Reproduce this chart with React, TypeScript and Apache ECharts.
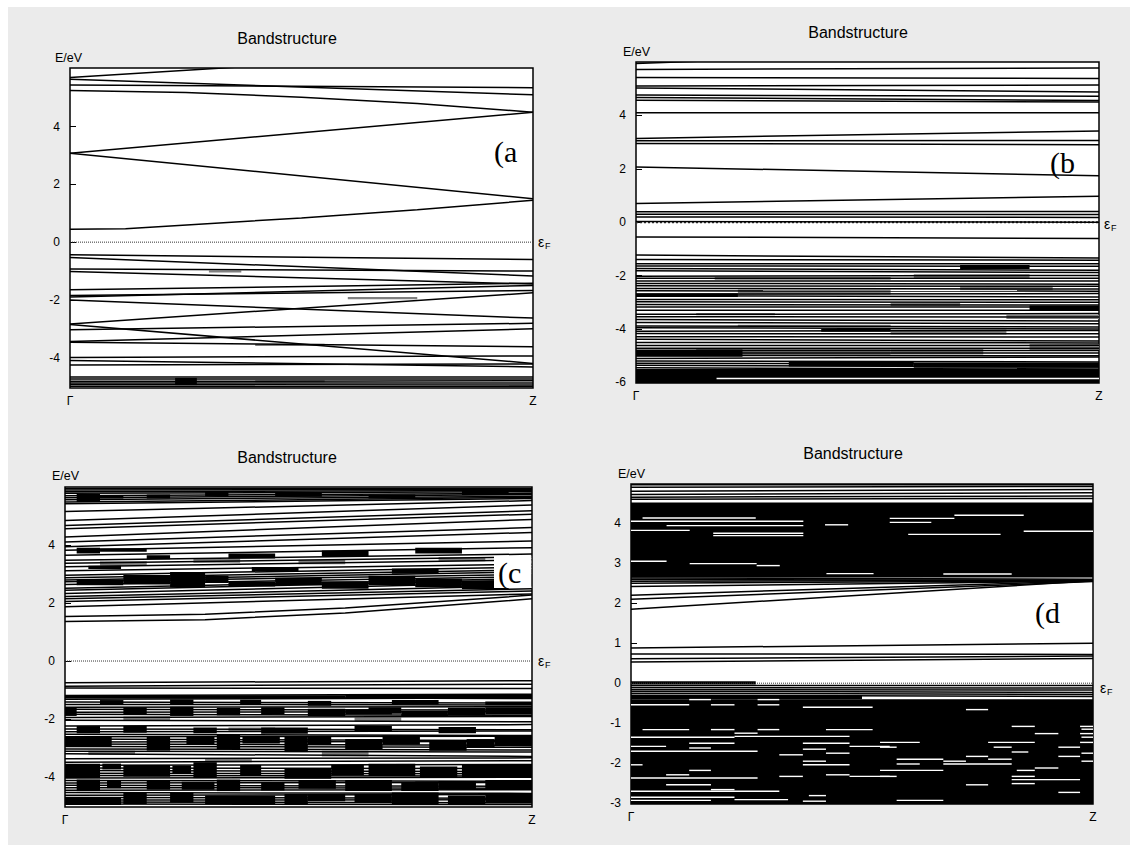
import React, { useEffect, useRef } from "react";
import * as echarts from "echarts";

// ---------- text ----------
const KPOINTS = ["Γ", "Z"];
const TITLE = "Bandstructure";
const Y_LABEL = "E/eV";
const PANEL_LETTERS = ["(a", "(b", "(c", "(d"];

// ---------- tick values ----------
const A_TICKS = [-4, -2, 0, 2, 4];
const B_TICKS = [-6, -4, -2, 0, 2, 4];
const C_TICKS = [-4, -2, 0, 2, 4];
const D_TICKS = [-3, -2, -1, 0, 1, 2, 3, 4];

// ---------- panel (a) ----------
// straight bands: [E at Γ, E at Z]
const A_BANDS = [
  [5.7, 6.7], [5.64, 5.1], [5.44, 5.35], [3.08, 4.5], [3.08, 1.5],
  [-0.44, -0.6], [-0.53, -1.17], [-0.93, -1.0], [-1.02, -1.45], [-1.65, -1.42],
  [-1.9, -1.5], [-1.85, -1.67], [-2.0, -2.63], [-2.83, -1.75], [-2.85, -4.2],
  [-3.03, -2.81], [-3.44, -3.0], [-3.47, -3.62], [-3.99, -3.94], [-4.1, -4.32],
  [-4.25, -4.22], [-4.67, -4.67], [-4.74, -4.74], [-4.82, -4.8], [-4.88, -4.88],
  [-4.93, -4.95], [-4.99, -5.0],
];
// curved bands: [k, E] points
const A_CURVES = [
  [[0, 5.25], [0.25, 5.18], [0.5, 5.02], [0.75, 4.8], [1, 4.5]],
  [[0, 0.45], [0.12, 0.46], [0.5, 0.84], [0.75, 1.12], [1, 1.45]],
];
// dense blocks: [k0, k1, Elow, Ehigh]
const A_BLOCKS = [[0.227, 0.274, -4.95, -4.7]];
const A_GRAY = [[0.3, 0.37, -1.05, -0.98], [0.6, 0.75, -1.98, -1.9], [0.4, 0.55, -3.6, -3.52], [0.4, 0.55, -4.85, -4.78]];

// ---------- panel (b) ----------
const B_BANDS = [
  [5.94, 6.6], [5.72, 5.78], [5.42, 5.38], [5.1, 5.14], [5.03, 4.88], [4.76, 4.72],
  [4.67, 4.56], [4.57, 4.5], [4.1, 4.1], [3.14, 3.42], [3.05, 3.06], [2.95, 2.9],
  [2.07, 1.74], [0.7, 0.97], [0.39, 0.4], [0.3, 0.29], [0.2, 0.18], [0.03, 0.0],
  [-0.55, -0.61], [-1.23, -1.34], [-1.4, -1.42], [-1.55, -1.55], [-1.64, -1.65],
  [-1.73, -1.8], [-1.82, -1.88], [-2.02, -1.99], [-2.1, -2.1], [-2.2, -2.2],
  [-2.29, -2.32], [-2.38, -2.4], [-2.48, -2.5], [-2.57, -2.58], [-2.7, -2.67],
  [-2.75, -2.8], [-2.89, -2.9], [-2.98, -3.0], [-3.08, -3.1], [-3.17, -3.17],
  [-3.3, -3.3], [-3.45, -3.42], [-3.54, -3.55], [-3.64, -3.7], [-3.75, -3.8],
  [-3.89, -3.92], [-3.95, -4.0], [-4.08, -4.05], [-4.17, -4.18], [-4.29, -4.3],
  [-4.38, -4.45], [-4.5, -4.52], [-4.62, -4.61], [-4.72, -4.72], [-4.81, -4.8],
  [-4.9, -4.9], [-4.99, -5.0], [-5.1, -5.05], [-5.2, -5.23], [-5.28, -5.32],
  [-5.36, -5.42], [-5.45, -5.5],
];
const B_BLOCKS = [
  [0, 1, -6.02, -5.5], [0, 0.23, -5.04, -4.77], [0, 0.22, -2.8, -2.66],
  [0.33, 0.6, -5.4, -5.2], [0.6, 1, -5.45, -5.25], [0.7, 0.85, -1.75, -1.6],
  [0.85, 1, -3.3, -3.12], [0.4, 0.55, -4.1, -4.0],
];
const B_GRAY = [
  [0.17, 0.55, -2.15, -2.05], [0.22, 0.55, -2.72, -2.52], [0.13, 0.3, -3.48, -3.4],
  [0.22, 0.55, -3.92, -3.84], [0.13, 0.55, -5.0, -4.74], [0.55, 0.8, -4.2, -4.02],
  [0.7, 0.9, -2.55, -2.38], [0.8, 1, -3.62, -3.46], [0.55, 0.75, -4.95, -4.72],
  [0.85, 1, -4.8, -4.55], [0.55, 0.7, -3.15, -3.02], [0.6, 0.85, -2.1, -1.95],
];
const B_WHITE = [[0.174, 1, -5.85]];

// ---------- panel (c) ----------
const C_BANDS = [
  [5.97, 5.97], [5.92, 5.93], [5.86, 5.9], [5.8, 5.86], [5.72, 5.8], [5.65, 5.76],
  [5.58, 5.7], [5.5, 5.66], [5.44, 5.62], [5.17, 5.55], [4.86, 5.4], [4.69, 5.2],
  [4.58, 5.08], [4.29, 4.9], [4.12, 4.62], [3.95, 4.45], [3.83, 4.15], [3.66, 3.92],
  [3.49, 3.7], [3.38, 3.6], [3.26, 3.5], [3.12, 3.35], [2.97, 3.25], [2.88, 3.15],
  [2.8, 3.08], [2.74, 3.0], [2.65, 2.92], [2.52, 2.85], [2.45, 2.8], [2.34, 2.72],
  [2.23, 2.6], [2.15, 2.5], [2.06, 2.42], [1.88, 2.32],
  [-0.75, -0.68], [-0.87, -0.8], [-0.93, -0.95], [-1.19, -1.15], [-1.25, -1.3],
  [-1.32, -1.28], [-1.42, -1.45], [-1.5, -1.52], [-1.6, -1.58], [-1.67, -1.7],
  [-1.77, -1.75], [-1.84, -1.88], [-1.95, -1.92], [-2.05, -2.1], [-2.25, -2.2],
  [-2.35, -2.38], [-2.45, -2.42], [-2.53, -2.58], [-2.62, -2.6], [-2.7, -2.75],
  [-2.8, -2.78], [-2.87, -2.92], [-2.96, -2.98], [-3.04, -3.08], [-3.12, -3.15],
  [-3.21, -3.3], [-3.38, -3.35], [-3.5, -3.45], [-3.61, -3.58], [-3.7, -3.72],
  [-3.79, -3.82], [-3.88, -3.9], [-3.96, -3.98], [-4.05, -4.02], [-4.13, -4.16],
  [-4.22, -4.2], [-4.3, -4.33], [-4.38, -4.4], [-4.47, -4.45], [-4.55, -4.58],
  [-4.64, -4.62], [-4.72, -4.75], [-4.81, -4.8], [-4.88, -4.9], [-4.95, -4.96],
];
const C_CURVES = [
  [[0, 1.54], [0.3, 1.62], [0.6, 1.83], [1, 2.28]],
  [[0, 1.37], [0.3, 1.43], [0.6, 1.66], [1, 2.15]],
];
const C_BLOCKS = [
  [0.025, 0.075, 5.5, 5.78], [0.075, 0.125, 5.62, 5.72], [0.175, 0.225, 5.62, 5.76],
  [0.3, 0.35, 5.7, 5.85], [0.45, 0.55, 5.68, 5.82], [0.65, 0.75, 5.62, 5.76],
  [0.85, 0.95, 5.74, 5.9], [0.025, 0.075, 3.72, 3.92], [0.075, 0.175, 3.78, 3.9],
  [0.175, 0.225, 3.52, 3.66], [0.35, 0.45, 3.55, 3.72], [0.55, 0.65, 3.62, 3.82],
  [0.75, 0.85, 3.72, 3.92], [0.025, 0.125, 2.62, 2.82], [0.125, 0.225, 2.65, 2.98],
  [0.225, 0.3, 2.55, 3.08], [0.3, 0.35, 2.7, 2.95], [0.35, 0.45, 2.58, 2.75],
  [0.45, 0.55, 2.62, 2.88], [0.55, 0.65, 2.5, 2.76], [0.65, 0.75, 2.62, 2.95],
  [0.75, 0.85, 2.55, 2.85], [0.85, 0.95, 2.48, 2.78], [0.95, 1.0, 2.62, 3.0],
  [0.7, 0.8, 3.02, 3.2], [0.4, 0.5, 3.1, 3.25], [0.05, 0.12, 3.18, 3.3],
  [0.0, 0.6, -1.3, -1.18], [0.6, 1.0, -1.28, -1.15],
  [0.075, 0.125, -1.52, -1.35], [0.225, 0.275, -1.52, -1.33], [0.375, 0.42, -1.5, -1.34],
  [0.52, 0.57, -1.55, -1.38], [0.7, 0.8, -1.5, -1.35], [0.9, 1.0, -1.52, -1.4],
  [0.0, 0.025, -1.9, -1.6], [0.125, 0.175, -1.85, -1.6], [0.225, 0.275, -1.9, -1.58],
  [0.325, 0.375, -1.88, -1.62], [0.42, 0.47, -1.85, -1.6], [0.52, 0.6, -1.9, -1.65],
  [0.65, 0.72, -1.82, -1.6], [0.82, 0.9, -1.88, -1.62],
  [0.6, 0.7, -1.85, -1.68], [0.72, 0.82, -1.9, -1.72], [0.9, 1.0, -1.85, -1.6],
  [0.025, 0.075, -2.5, -2.25], [0.125, 0.175, -2.48, -2.25], [0.275, 0.325, -2.5, -2.3],
  [0.42, 0.52, -2.52, -2.3], [0.62, 0.7, -2.45, -2.25], [0.8, 0.88, -2.5, -2.28],
  [0.175, 0.225, -3.1, -2.6], [0.325, 0.375, -3.05, -2.55], [0.47, 0.52, -3.15, -2.6],
  [0.52, 0.57, -2.9, -2.6], [0.6, 0.68, -3.05, -2.7], [0.78, 0.86, -3.1, -2.75],
  [0.92, 1.0, -2.95, -2.6], [0.0, 0.1, -2.95, -2.6], [0.26, 0.32, -2.9, -2.62],
  [0.38, 0.46, -2.85, -2.6], [0.68, 0.76, -2.9, -2.58], [0.86, 0.92, -3.0, -2.7],
  [0.0, 0.075, -4.05, -3.55], [0.125, 0.225, -4.0, -3.6], [0.275, 0.325, -4.05, -3.5],
  [0.375, 0.42, -3.95, -3.6], [0.47, 0.57, -4.07, -3.7], [0.65, 0.75, -3.98, -3.55],
  [0.85, 1.0, -4.05, -3.6], [0.08, 0.12, -3.75, -3.55], [0.23, 0.27, -3.9, -3.62],
  [0.57, 0.64, -3.95, -3.6], [0.76, 0.84, -4.02, -3.65],
  [0.025, 0.075, -4.5, -4.1], [0.175, 0.225, -4.45, -4.15], [0.325, 0.375, -4.5, -4.1],
  [0.42, 0.47, -4.48, -4.2], [0.6, 0.7, -4.5, -4.12], [0.8, 0.88, -4.45, -4.15],
  [0.09, 0.12, -4.4, -4.15], [0.25, 0.32, -4.45, -4.18], [0.5, 0.58, -4.42, -4.12],
  [0.72, 0.8, -4.5, -4.2], [0.9, 1.0, -4.45, -4.12],
  [0.125, 0.175, -4.95, -4.55], [0.225, 0.275, -4.9, -4.55], [0.47, 0.52, -4.98, -4.6],
  [0.52, 0.6, -4.85, -4.6], [0.7, 0.8, -4.95, -4.55], [0.9, 1.0, -4.92, -4.58],
  [0.0, 0.12, -4.98, -4.7], [0.3, 0.45, -4.95, -4.65], [0.62, 0.7, -4.9, -4.6],
  [0.82, 0.9, -4.98, -4.65],
];
const C_GRAY = [
  [0.075, 0.175, 3.3, 3.45], [0.275, 0.375, 3.4, 3.55], [0.5, 0.6, 3.35, 3.5],
  [0.8, 0.9, 3.45, 3.6], [0.125, 0.225, -2.05, -1.92], [0.35, 0.45, -2.45, -2.3],
  [0.55, 0.65, -3.3, -3.1], [0.75, 0.85, -4.3, -4.15], [0.3, 0.4, -3.5, -3.38],
  [0.05, 0.15, -3.25, -3.1], [0.62, 0.72, -2.08, -1.95],
];

// ---------- panel (d) ----------
const D_BANDS = [
  [4.96, 4.96], [4.9, 4.92], [4.8, 4.84], [4.72, 4.76], [4.65, 4.68], [4.6, 4.62],
  [2.63, 2.6], [2.59, 2.58], [2.55, 2.57], [2.5, 2.56], [2.42, 2.55], [2.2, 2.56],
  [2.1, 2.54], [1.85, 2.56], [0.88, 1.0], [0.73, 0.72], [0.61, 0.68], [0.53, 0.62],
  [-0.06, -0.06], [-0.11, -0.12], [-0.16, -0.17], [-0.2, -0.23], [-0.25, -0.28],
  [-0.3, -0.33],
];
const D_BLOCKS = [
  [0, 1, 2.64, 4.52], [0, 1, -3.02, -0.4], [0, 0.5, -0.4, -0.3], [0, 0.27, -0.03, 0.05],
];
// white lines inside the black regions: [k0, k1, E]
const D_WHITE = [
  [0.025, 0.27, 4.13], [0, 0.373, 4.05], [0.077, 0.373, 3.94], [0.42, 0.47, 3.96],
  [0, 0.127, 3.82], [0.178, 0.373, 3.75], [0.178, 0.373, 3.69], [0, 0.077, 3.05],
  [0.127, 0.272, 2.99], [0.272, 0.322, 2.94], [0.423, 0.525, 2.74], [0.676, 0.824, 2.73],
  [0.56, 0.7, 4.12], [0.7, 0.85, 4.2], [0.6, 0.8, 3.72], [0.85, 1, 3.8], [0.56, 0.65, 4.02],
  [0.126, 0.173, -0.41], [0.274, 0.321, -0.41], [0, 0.126, -0.54], [0.173, 0.224, -0.54],
  [0.274, 0.321, -0.54], [0.372, 0.523, -0.6], [0.025, 0.126, -1.16], [0.173, 0.224, -1.16],
  [0.274, 0.321, -1.16], [0.422, 0.523, -1.16], [0.224, 0.274, -1.25], [0, 0.224, -1.35],
  [0.224, 0.473, -1.33], [0.126, 0.224, -1.5], [0.372, 0.473, -1.5], [0, 0.076, -1.58],
  [0.473, 0.56, -1.58], [0.126, 0.173, -1.62], [0, 0.274, -1.7], [0.321, 0.372, -1.79],
  [0.372, 0.422, -1.65], [0.422, 0.473, -1.75], [0, 0.025, -2.04], [0.372, 0.473, -2.04],
  [0.372, 0.422, -1.95], [0.126, 0.173, -2.18], [0.076, 0.126, -2.29], [0.422, 0.473, -2.29],
  [0.321, 0.372, -2.33], [0.473, 0.56, -2.33], [0, 0.274, -2.37], [0.076, 0.173, -2.54],
  [0, 0.321, -2.7], [0.173, 0.224, -2.66], [0.385, 0.422, -2.81], [0, 0.224, -2.85],
  [0.224, 0.34, -2.91], [0, 0.173, -2.93], [0.372, 0.422, -2.95],
  [0.725, 0.773, -0.66], [0.824, 0.874, -1.08], [0.972, 1, -1.08], [0.874, 0.925, -1.26],
  [0.972, 1, -1.26], [0.539, 0.625, -1.48], [0.773, 0.874, -1.48], [0.972, 1, -1.48],
  [0.539, 0.575, -1.6], [0.785, 0.824, -1.6], [0.925, 0.972, -1.6], [0.824, 0.86, -1.72],
  [0.925, 0.972, -1.83], [0.725, 0.773, -1.83], [0.575, 0.676, -1.9], [0.773, 0.824, -1.9],
  [0.676, 0.725, -1.95], [0.575, 0.625, -2.02], [0.676, 0.824, -2.02], [0.874, 0.925, -2.12],
  [0.539, 0.676, -2.18], [0.835, 0.874, -2.18], [0.539, 0.575, -2.33], [0.824, 0.874, -2.33],
  [0.824, 0.972, -2.41], [0.824, 0.874, -2.51], [0.725, 0.773, -2.54], [0.925, 0.972, -2.73],
  [0.575, 0.676, -2.93], [0.975, 1, -1.15], [0.975, 1, -1.35], [0.975, 1, -1.75],
  [0.975, 1, -1.95],
];

// ---------- layout (page pixels) ----------
const FONT = "'Liberation Sans', Arial, sans-serif";
const SERIF = "'Liberation Serif', 'Times New Roman', serif";
const EMPTY: number[][] = [];
const NO_CURVES: number[][][] = [];

const PANELS = [
  {
    grid: { left: 70, top: 68, width: 463, height: 320 }, yMin: -5.05, yMax: 6.03, ticks: A_TICKS,
    bands: A_BANDS, curves: A_CURVES, blocks: A_BLOCKS, gray: A_GRAY, white: EMPTY, fermiW: 1,
    title: [287, 38], ylab: [55, 58], eps: [538, 242], letter: [494, 151], letterBg: false,
  },
  {
    grid: { left: 636, top: 62, width: 463, height: 321 }, yMin: -6.02, yMax: 6.0, ticks: B_TICKS,
    bands: B_BANDS, curves: NO_CURVES, blocks: B_BLOCKS, gray: B_GRAY, white: B_WHITE, fermiW: 2,
    title: [858, 32], ylab: [623, 52], eps: [1104, 224], letter: [1050, 162], letterBg: false,
  },
  {
    grid: { left: 65, top: 487, width: 467, height: 320 }, yMin: -5.05, yMax: 6.02, ticks: C_TICKS,
    bands: C_BANDS, curves: C_CURVES, blocks: C_BLOCKS, gray: C_GRAY, white: EMPTY, fermiW: 1,
    title: [287, 457], ylab: [52, 476], eps: [538, 661], letter: [494, 572], letterBg: true,
  },
  {
    grid: { left: 631, top: 484, width: 462, height: 320 }, yMin: -3.02, yMax: 4.98, ticks: D_TICKS,
    bands: D_BANDS, curves: NO_CURVES, blocks: D_BLOCKS, gray: EMPTY, white: D_WHITE, fermiW: 1,
    title: [853, 453], ylab: [618, 474], eps: [1100, 688], letter: [1035, 612], letterBg: false,
  },
];

const LINE_W = 1.5;

function lineSeries(i: number, data: number[][], color: string, width: number) {
  return {
    type: "custom", xAxisIndex: i, yAxisIndex: i, clip: true, silent: true, z: 3,
    data, encode: { x: [0, 2], y: [1, 3] },
    renderItem: (_p: any, api: any) => {
      const a = api.coord([api.value(0), api.value(1)]);
      const b = api.coord([api.value(2), api.value(3)]);
      return { type: "line", shape: { x1: a[0], y1: a[1], x2: b[0], y2: b[1] }, style: { stroke: color, lineWidth: width } };
    },
  };
}

function blockSeries(i: number, blocks: number[][], color: string, z: number) {
  return {
    type: "custom", xAxisIndex: i, yAxisIndex: i, clip: true, silent: true, z,
    data: blocks.map((b) => [b[0], b[3], b[1], b[2]]), encode: { x: [0, 2], y: [1, 3] },
    renderItem: (_p: any, api: any) => {
      const a = api.coord([api.value(0), api.value(1)]);
      const b = api.coord([api.value(2), api.value(3)]);
      return { type: "rect", shape: { x: a[0], y: a[1], width: b[0] - a[0], height: b[1] - a[1] }, style: { fill: color } };
    },
  };
}

function buildOption() {
  const series: any[] = [];
  const graphic: any[] = [];
  PANELS.forEach((p, i) => {
    if (p.gray.length) series.push(blockSeries(i, p.gray, "#808080", 1));
    series.push(blockSeries(i, p.blocks, "#000", 2));
    series.push({
      type: "line", xAxisIndex: i, yAxisIndex: i, data: [[0, 0], [1, 0]], showSymbol: false, silent: true, z: 2,
      lineStyle: { color: "#333", width: p.fermiW, type: "dotted" },
    });
    series.push(lineSeries(i, p.bands.map((b) => [0, b[0], 1, b[1]]), "#000", LINE_W));
    p.curves.forEach((c) => {
      series.push({
        type: "line", xAxisIndex: i, yAxisIndex: i, data: c, showSymbol: false, silent: true, z: 3,
        lineStyle: { color: "#000", width: LINE_W },
      });
    });
    if (p.white.length) series.push(lineSeries(i, p.white.map((w) => [w[0], w[2], w[1], w[2]]), "#fff", 1.4));

    const letterStyle: any = {
      text: PANEL_LETTERS[i], font: `30px ${SERIF}`, fill: "#000", align: "left", verticalAlign: "middle",
    };
    if (p.letterBg) {
      letterStyle.backgroundColor = "#fff";
      letterStyle.padding = [2, 10, 0, 4];
    }
    graphic.push(
      { type: "text", x: p.title[0], y: p.title[1], style: { text: TITLE, font: `16px ${FONT}`, fill: "#000", align: "center", verticalAlign: "middle" } },
      { type: "text", x: p.ylab[0], y: p.ylab[1], style: { text: Y_LABEL, font: `12.5px ${FONT}`, fill: "#000", align: "left", verticalAlign: "middle" } },
      { type: "text", x: p.eps[0], y: p.eps[1], style: { text: "ε", font: `14px ${FONT}`, fill: "#000", align: "left", verticalAlign: "middle" } },
      { type: "text", x: p.eps[0] + 7, y: p.eps[1] + 4, style: { text: "F", font: `9px ${FONT}`, fill: "#000", align: "left", verticalAlign: "middle" } },
      { type: "text", z: 10, x: p.letter[0], y: p.letter[1], style: letterStyle },
    );
  });

  return {
    animation: false,
    grid: PANELS.map((p) => ({ ...p.grid, show: true, backgroundColor: "#fff", borderColor: "#000", borderWidth: 1.5 })),
    xAxis: PANELS.map((_p, i) => ({
      gridIndex: i, type: "value", min: 0, max: 1,
      axisLine: { show: false }, axisTick: { show: false }, splitLine: { show: false },
      axisLabel: {
        customValues: [0, 1], formatter: (v: number) => (v < 0.5 ? KPOINTS[0] : KPOINTS[1]),
        color: "#000", fontSize: 12, fontFamily: FONT, margin: 7,
      },
    })),
    yAxis: PANELS.map((p, i) => ({
      gridIndex: i, type: "value", min: p.yMin, max: p.yMax,
      axisLine: { show: false }, splitLine: { show: false },
      axisTick: { show: true, inside: true, length: 6, customValues: p.ticks, lineStyle: { color: "#000", width: 1 } },
      axisLabel: { customValues: p.ticks, color: "#000", fontSize: 12, fontFamily: FONT, margin: 10 },
    })),
    series,
    graphic,
  };
}

export default function App() {
  const ref = useRef<HTMLDivElement>(null);
  useEffect(() => {
    if (!ref.current) return;
    const chart = echarts.init(ref.current, undefined, { renderer: "svg" });
    chart.setOption(buildOption() as any);
    return () => chart.dispose();
  }, []);
  return (
    <div style={{ position: "absolute", left: 0, top: 0, width: 1130, height: 845, background: "#fff", overflow: "hidden" }}>
      <div style={{ position: "absolute", left: 8, top: 7, right: 0, bottom: 0, background: "#ebebeb" }} />
      <div ref={ref} style={{ position: "absolute", left: 0, top: 0, width: 1130, height: 845 }} />
    </div>
  );
}
